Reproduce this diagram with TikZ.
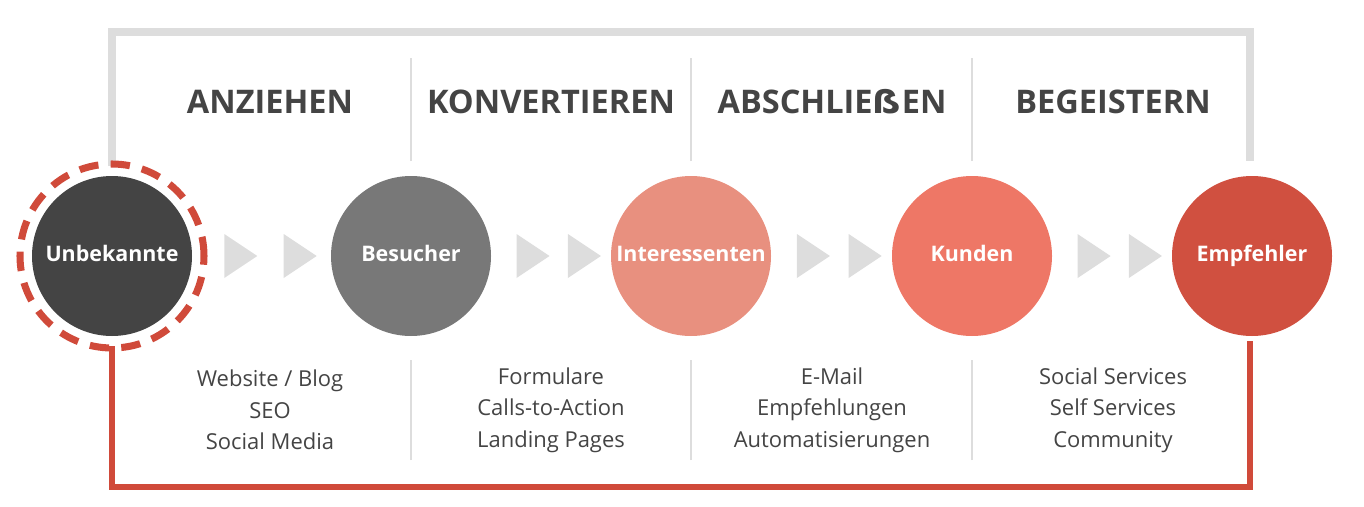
\documentclass[tikz,border=0pt]{standalone}
\usepackage{fontspec}
\setmainfont{Open Sans}
\newfontfamily\eszfont{DejaVu Sans}
\usetikzlibrary{positioning}
\definecolor{dark}{HTML}{444444}
\definecolor{light}{HTML}{DDDDDD}
\definecolor{redline}{HTML}{D04A3A}
\definecolor{salmon}{HTML}{E8907F}
\definecolor{coral}{HTML}{EE7766}
\definecolor{brick}{HTML}{D05040}
\tikzset{
	stage/.style={circle, minimum size=3.2cm, inner sep=0pt, text=white, text height=1.6ex, text depth=0.4ex, font=\bfseries\fontsize{12.2}{14}\selectfont},
	head/.style={text=dark, font=\bfseries\fontsize{18.5}{20}\selectfont},
	tools/.style={text=dark, align=center, font=\fontsize{12.5}{18}\selectfont},
	chev/.style={fill=light}
}
\begin{document}
\begin{tikzpicture}
	\useasboundingbox (0,0) rectangle (27.28,10.12);
	% brackets
	\draw[light, line width=5pt] (2.24,6.8) -- (2.24,9.48) -- (25.0,9.48) -- (25.0,6.9);
	\draw[redline, line width=3pt] (2.24,3.2) -- (2.24,0.38) -- (25.0,0.38) -- (25.0,3.3);
	% dividers
	\foreach \x in {8.22,13.82,19.44} {
		\draw[light, line width=1pt] (\x,6.9) -- (\x,8.96);
		\draw[light, line width=1pt] (\x,0.92) -- (\x,2.92);
	}
	% stages
	\node[stage, fill=dark] (unb) at (2.24,5.0) {Unbekannte};
	\node[stage, fill=black!53] (bes) at (8.22,5.0) {Besucher};
	\node[stage, fill=salmon] (int) at (13.82,5.0) {Interessenten};
	\node[stage, fill=coral] (kun) at (19.44,5.0) {Kunden};
	\node[stage, fill=brick] (emp) at (25.04,5.0) {Empfehler};
	\draw[redline, line width=4pt, dash pattern=on 11pt off 7pt] (unb) circle (1.84);
	% chevrons
	\foreach \a/\b in {unb/bes,bes/int,int/kun,kun/emp} {
		\path (\a) -- (\b) coordinate[pos=0.35] (c1) coordinate[pos=0.78] (c2);
		\foreach \c in {c1,c2}
			\fill[chev] ([xshift=-0.33cm,yshift=0.44cm]\c) -- ([xshift=0.33cm]\c) -- ([xshift=-0.33cm,yshift=-0.44cm]\c) -- cycle;
	}
	% headings
	\node[head] (h1) at (5.4,8.08) {ANZIEHEN};
	\node[head] (h2) at (11.02,8.08) {KONVERTIEREN};
	\node[head] (h3) at (16.64,8.08) {ABSCHLIE{\eszfont ẞ}EN};
	\node[head] (h4) at (22.26,8.08) {BEGEISTERN};
	% tools
	\node[tools] (t1) at (5.4,1.92) {Website / Blog\\SEO\\Social Media};
	\node[tools] (t2) at (11.02,1.92) {Formulare\\Calls-to-Action\\Landing Pages};
	\node[tools] (t3) at (16.64,1.92) {E-Mail\\Empfehlungen\\Automatisierungen};
	\node[tools] (t4) at (22.26,1.92) {Social Services\\Self Services\\Community};
\end{tikzpicture}
\end{document}
